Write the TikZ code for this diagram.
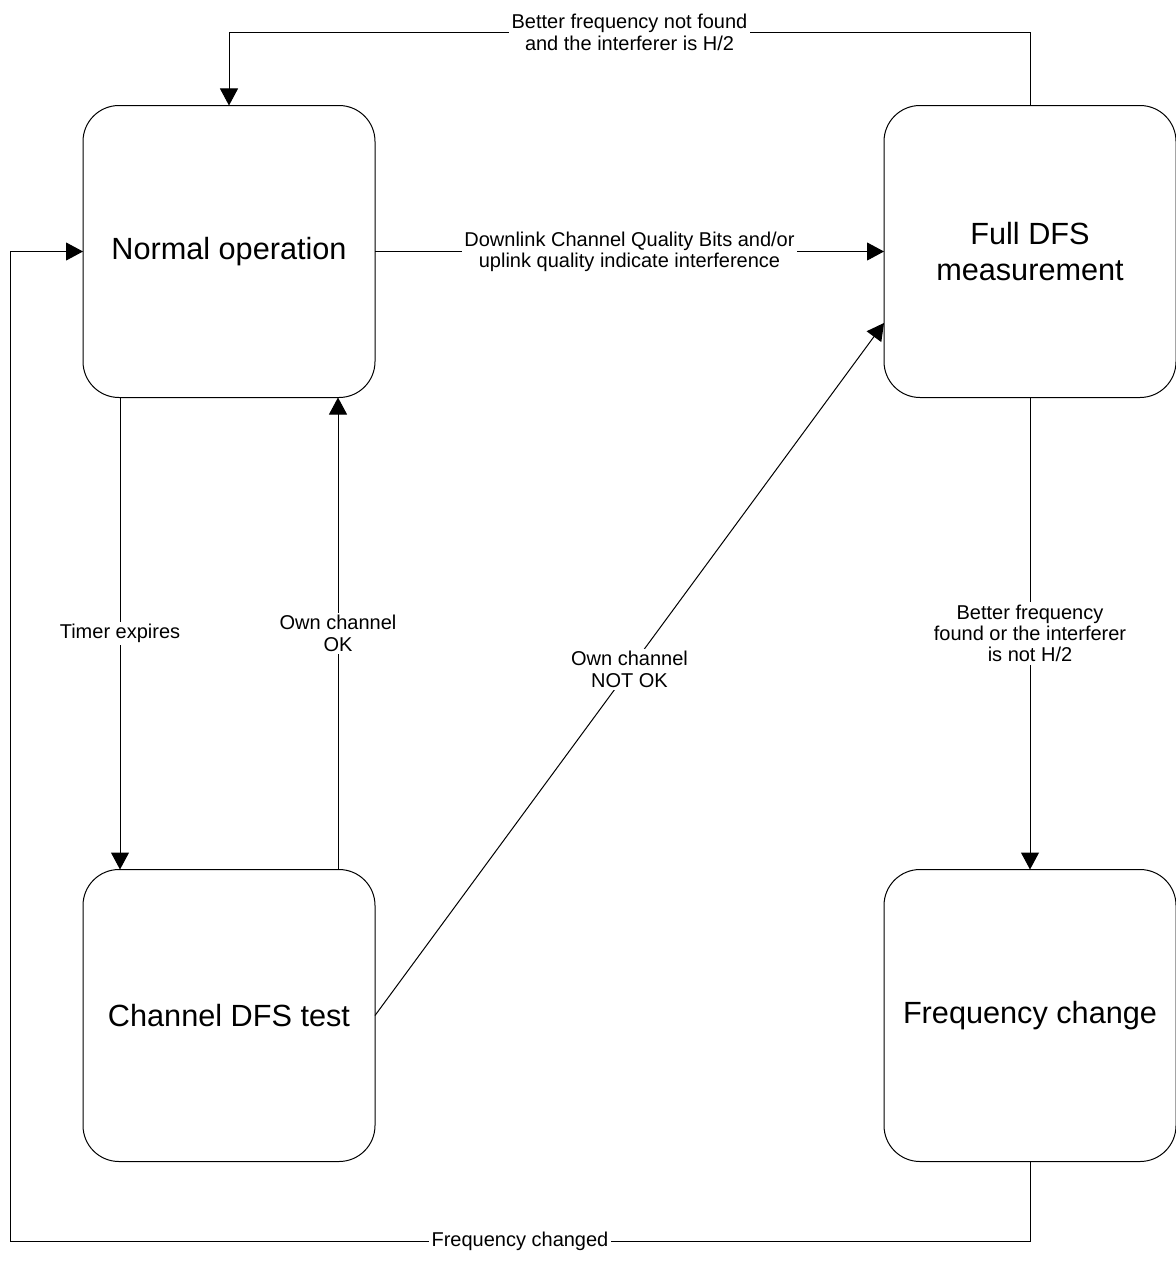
\documentclass[tikz,border=0pt]{standalone}
\usepackage{fontspec}
\setmainfont{Liberation Sans}
\usetikzlibrary{arrows.meta,positioning,calc}

\begin{document}
\begin{tikzpicture}[x=0.75pt,y=-0.75pt,>={Triangle[length=12.75pt,width=13.5pt]},line width=0.75pt,
  state/.style={draw,rounded corners=27pt,minimum width=219pt,minimum height=219pt,inner sep=0pt,outer sep=0pt,align=center,font=\fontsize{23}{26.5}\selectfont},
  lbl/.style={fill=white,inner sep=2pt,align=center,font=\fontsize{15}{16}\selectfont}]
\useasboundingbox (0,0) rectangle (1176,1281);
\node[state] (norm) at (229,251.5) {Normal operation};
\node[state,right=381.75pt of norm] (full) {Full DFS\\measurement};
\node[state,below=354pt of norm] (chan) {Channel DFS test};
\node[state,below=354pt of full] (freq) {Frequency change};
\draw[->] (full.north) |- node[lbl,pos=0.75] {Better frequency not found\\and the interferer is H/2} ($(norm.north)+(0,-73)$) -- (norm.north);
\draw[->] (norm.east) -- node[lbl] {Downlink Channel Quality Bits and/or\\uplink quality indicate interference} (full.west);
\draw[->] ([xshift=27.75pt]norm.south west) -- node[lbl] {Timer expires} ([xshift=27.75pt]chan.north west);
\draw[->] ([xshift=-27.75pt]chan.north east) -- node[lbl] {Own channel\\OK} ([xshift=-27.75pt]norm.south east);
\draw[->] (chan.east) -- node[lbl] {Own channel\\NOT OK} ([yshift=-53.6pt]full.west);
\draw[->] (full.south) -- node[lbl] {Better frequency\\found or the interferer\\is not H/2} (freq.north);
\draw[->] (freq.south) -- ++(0,80) -| node[lbl,pos=0.25] {Frequency changed} ($(norm.west)+(-73,0)$) -- (norm.west);
\end{tikzpicture}
\end{document}
